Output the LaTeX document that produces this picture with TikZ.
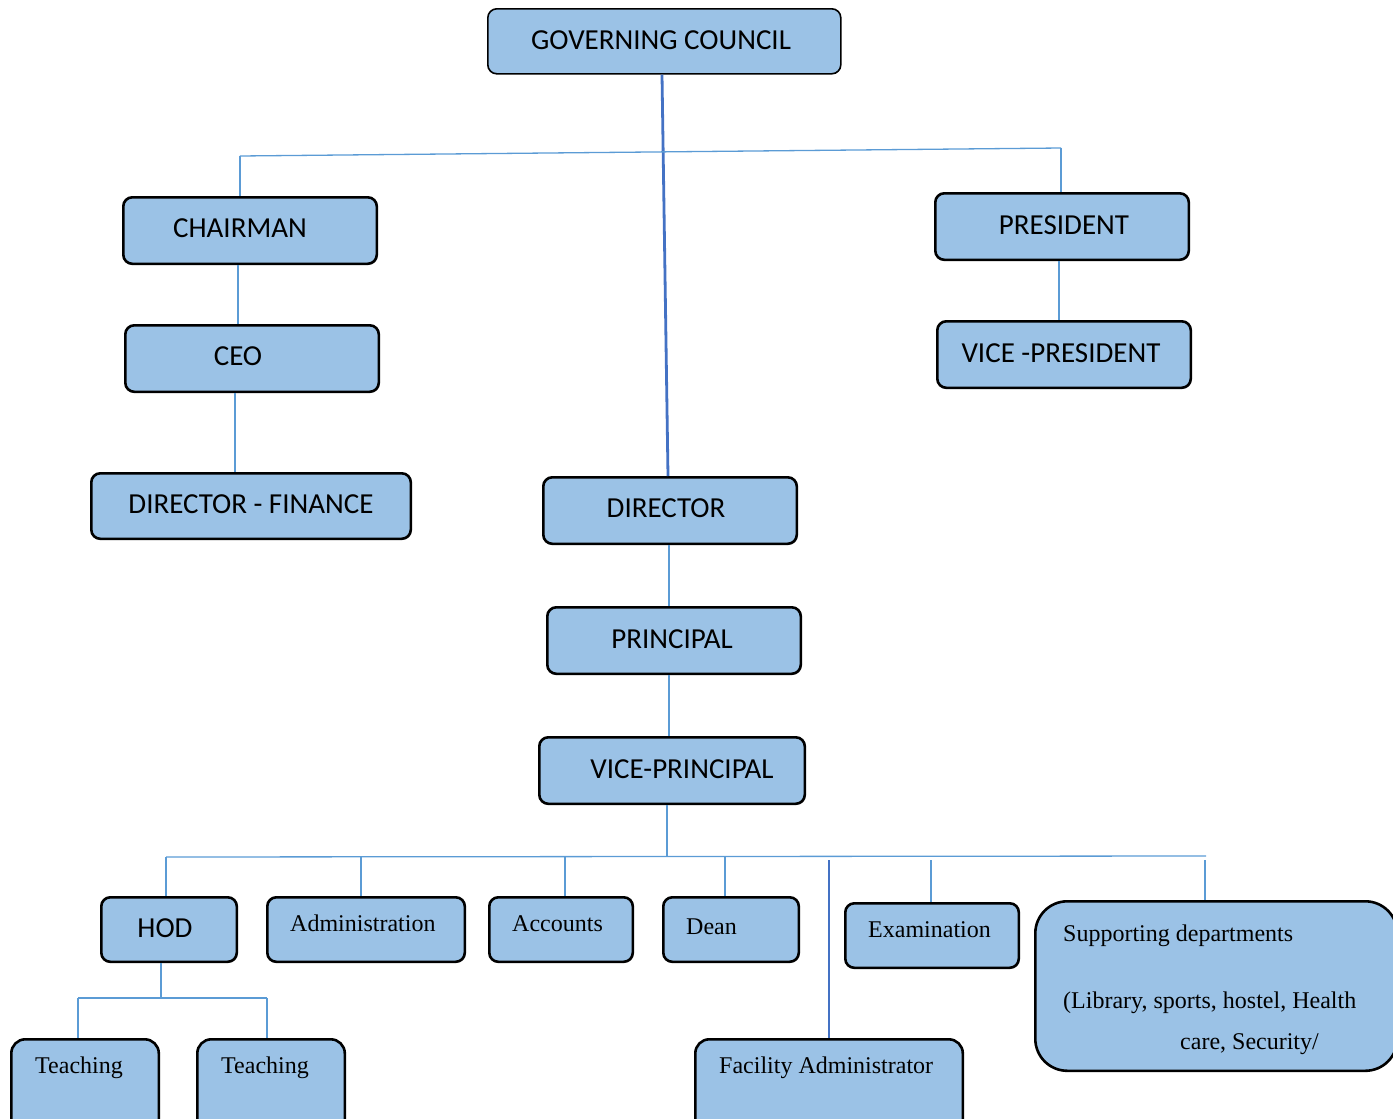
\documentclass[tikz,border=0pt]{standalone}
\usepackage{fontspec}
\setmainfont{Liberation Serif}
\newfontfamily\carl{Carlito}
\definecolor{boxblue}{HTML}{9BC2E6}
\definecolor{ltline}{HTML}{5B9BD5}
\definecolor{dkline}{HTML}{4472C4}
\tikzset{
  box/.style={draw=black, line width=2.6pt, fill=boxblue, rounded corners=9pt, anchor=north west, inner sep=0pt},
  sans/.style={font=\carl\fontsize{29}{34}\selectfont, inner sep=0pt},
  serif/.style={font=\fontsize{24}{28}\selectfont, inner sep=0pt, anchor=base west},
  lt/.style={draw=ltline, line width=1.3pt},
  dk/.style={draw=dkline, line width=2.8pt},
}
\begin{document}
\begin{tikzpicture}[x=1pt,y=-1pt]
\useasboundingbox (0,0) rectangle (1393,1119);
% boxes
\node[box, line width=1.6pt, minimum width=353, minimum height=65] (gc) at (487,8) {};
\node[box, minimum width=253.5, minimum height=66.5] (chair) at (122,196) {};
\node[box, minimum width=253.5, minimum height=66.5] (ceo) at (124,324) {};
\node[box, minimum width=319.5, minimum height=65.5] (dfin) at (90,472) {};
\node[box, minimum width=253.5, minimum height=66.5] (pres) at (934,192) {};
\node[box, minimum width=253.5, minimum height=66.5] (vpres) at (936,320) {};
\node[box, minimum width=253.5, minimum height=66.5] (dir) at (542,476) {};
\node[box, minimum width=253.5, minimum height=66.5] (princ) at (546,606) {};
\node[box, minimum width=265.5, minimum height=66.5] (vprinc) at (538,736) {};
\node[box, minimum width=135.5, minimum height=64.5] (hod) at (100,896) {};
\node[box, minimum width=197.5, minimum height=64.5] (admin) at (266,896) {};
\node[box, minimum width=143.5, minimum height=64.5] (acc) at (488,896) {};
\node[box, minimum width=135.5, minimum height=64.5] (dean) at (662,896) {};
\node[box, minimum width=173.5, minimum height=64.5] (exam) at (844,902) {};
\node[box, rounded corners=32pt, minimum width=362, minimum height=169.5] (supp) at (1034,900) {};
\node[box, rounded corners=14pt, minimum width=147.5, minimum height=110] (teach1) at (10,1038) {};
\node[box, rounded corners=14pt, minimum width=147.5, minimum height=110] (teach2) at (196,1038) {};
\node[box, rounded corners=14pt, minimum width=267.5, minimum height=110] (fac) at (694,1038) {};
% texts
\node[sans] (tgc) at (661,40) {GOVERNING COUNCIL};
\node[sans] (tchair) at (240,228) {CHAIRMAN};
\node[sans] (tceo) at (238,356) {CEO};
\node[sans] (tdfin) at (251,504) {DIRECTOR - FINANCE};
\node[sans] (tpres) at (1064,225) {PRESIDENT};
\node[sans] (tvpres) at (1061,353) {VICE -PRESIDENT};
\node[sans] (tdir) at (666,508) {DIRECTOR};
\node[sans] (tprinc) at (672,639) {PRINCIPAL};
\node[sans] (tvprinc) at (682,769) {VICE-PRINCIPAL};
\node[sans] (thod) at (165,928) {HOD};
\node[serif] (tadmin) at (290,931) {Administration};
\node[serif] (tacc) at (512,931) {Accounts};
\node[serif] (tdean) at (686,934) {Dean};
\node[serif] (texam) at (868,937) {Examination};
\node[serif] (tsupp1) at (1063,941) {Supporting departments};
\node[serif] (tsupp2) at (1063,1008) {(Library, sports, hostel, Health};
\node[serif] (tsupp3) at (1180,1049) {care, Security/};
\node[serif] (tteach1) at (35,1073) {Teaching};
\node[serif] (tteach2) at (221,1073) {Teaching};
\node[serif] (tfac) at (719,1073) {Facility Administrator};
% connectors (top)
\draw[dk] ([xshift=175pt]gc.south west) -- ([xshift=126pt]dir.north west);
\coordinate (tl) at (240,156);
\coordinate (tr) at (1061,148);
\draw[lt] (tl) -- (tr);
\draw[lt] (tl) -- (tl |- chair.north);
\draw[lt] (tr) -- (tr |- pres.north);
\draw[lt] ([xshift=116pt]chair.south west) -- ([xshift=114pt]ceo.north west);
\draw[lt] ([xshift=111pt]ceo.south west) -- ([xshift=145pt]dfin.north west);
\draw[lt] ([xshift=125pt]pres.south west) -- ([xshift=123pt]vpres.north west);
\draw[lt] ([xshift=127pt]dir.south west) -- ([xshift=123pt]princ.north west);
\draw[lt] ([xshift=123pt]princ.south west) -- ([xshift=131pt]vprinc.north west);
% lower bar
\coordinate (bm) at (667,857);
\coordinate (bl) at (166,857);
\coordinate (br) at (1206,856);
\coordinate (ba) at (361,857);
\coordinate (bc) at (565,857);
\coordinate (bd) at (725,857);
\coordinate (be) at (931,860);
\coordinate (bs) at (1205,860);
\coordinate (bf) at (829,860);
\draw[lt] ([xshift=129pt]vprinc.south west) -- (bm);
\draw[lt] (bl) -- (br);
\draw[lt] (bl) -- (bl |- hod.north);
\draw[lt] (ba) -- (ba |- admin.north);
\draw[lt] (bc) -- (bc |- acc.north);
\draw[lt] (bd) -- (bd |- dean.north);
\draw[lt] (be) -- (be |- exam.north);
\draw[lt] (bs) -- (bs |- supp.north);
\draw[dk, line width=2.3pt] (bf) -- (bf |- fac.north);
% HOD to teaching
\coordinate (tb) at (161,998);
\coordinate (tbl) at (78,998);
\coordinate (tbr) at (267,998);
\draw[lt] ([xshift=61pt]hod.south west) -- (tb);
\draw[lt] (tbl) -- (tbr);
\draw[lt] (tbl) -- (tbl |- teach1.north);
\draw[lt] (tbr) -- (tbr |- teach2.north);
\end{tikzpicture}
\end{document}
